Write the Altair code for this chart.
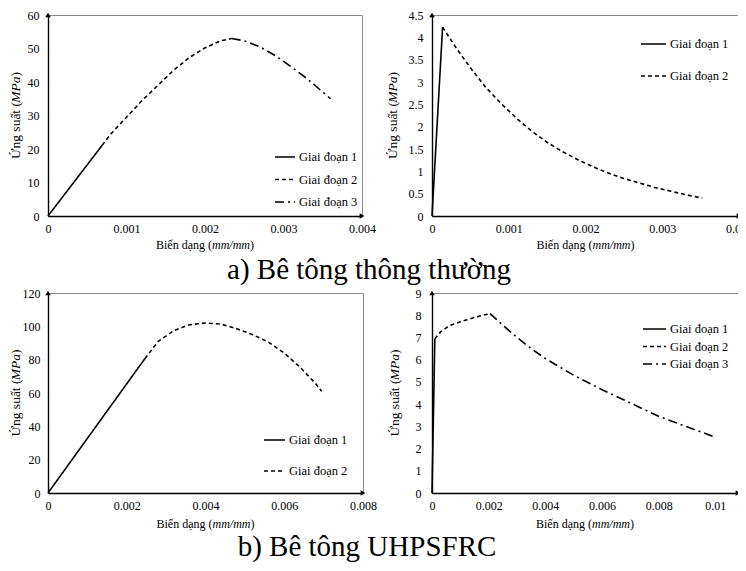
import altair as alt
import pandas as pd

FONT = "Liberation Serif"
STAGES = ["Giai đoạn 1", "Giai đoạn 2", "Giai đoạn 3"]
DASHES = [[1, 0], [4, 3], [9, 4, 2, 4]]
# axis titles: (normal part, italic part, normal part)
XTITLE = ["Biến dạng (", "mm/mm", ")"]
YTITLE = ["Ứng suất (", "MPa", ")"]

# ---- a) normal concrete, compression
a1_s1_x = [0.0, 0.00069]
a1_s1_y = [0.0, 21.1]
a1_s2_x = [0.00069, 0.0008, 0.0010, 0.0012, 0.0014, 0.0016, 0.0018, 0.0020, 0.0022, 0.00234]
a1_s2_y = [21.1, 24.5, 29.5, 34.5, 39.0, 43.5, 47.3, 50.2, 52.3, 53.0]
a1_s3_x = [0.00234, 0.0025, 0.0027, 0.0029, 0.0031, 0.0033, 0.0035, 0.0036]
a1_s3_y = [53.0, 52.3, 50.5, 47.8, 44.5, 41.0, 37.0, 35.0]
a1_xticks = [0, 0.001, 0.002, 0.003, 0.004]
a1_yticks = [0, 10, 20, 30, 40, 50, 60]

# ---- a) normal concrete, tension
a2_s1_x = [0.0, 0.000138]
a2_s1_y = [0.0, 4.23]
a2_s2_x = [0.000138, 0.0003, 0.0005, 0.0007, 0.0009, 0.0011, 0.0013, 0.0015, 0.0017,
           0.0019, 0.0021, 0.0023, 0.0025, 0.0027, 0.0029, 0.0031, 0.0033, 0.00352]
a2_s2_y = [4.23, 3.80, 3.32, 2.88, 2.52, 2.19, 1.90, 1.65, 1.44,
           1.26, 1.10, 0.96, 0.84, 0.74, 0.64, 0.56, 0.48, 0.40]
a2_xticks = [0, 0.001, 0.002, 0.003, 0.004]
a2_yticks = [0, 0.5, 1, 1.5, 2, 2.5, 3, 3.5, 4, 4.5]

# ---- b) UHPSFRC, compression
b1_s1_x = [0.0, 0.00246]
b1_s1_y = [0.0, 80.6]
b1_s2_x = [0.00246, 0.0028, 0.0032, 0.0036, 0.0040, 0.0044, 0.0048, 0.0052, 0.0056,
           0.0060, 0.0064, 0.0068, 0.00695]
b1_s2_y = [80.6, 91.0, 97.5, 101.0, 102.0, 101.3, 98.5, 95.0, 90.5,
           84.0, 75.5, 65.5, 61.0]
b1_xticks = [0, 0.002, 0.004, 0.006, 0.008]
b1_yticks = [0, 20, 40, 60, 80, 100, 120]

# ---- b) UHPSFRC, tension
b2_s1_x = [0.0, 0.0001]
b2_s1_y = [0.0, 6.93]
b2_s2_x = [0.0001, 0.0003, 0.0006, 0.0009, 0.0012, 0.0015, 0.0018, 0.00205]
b2_s2_y = [6.93, 7.25, 7.52, 7.66, 7.78, 7.90, 8.00, 8.07]
b2_s3_x = [0.00205, 0.0025, 0.0030, 0.0035, 0.0040, 0.0050, 0.0060, 0.0070, 0.0080, 0.0090, 0.0100]
b2_s3_y = [8.07, 7.55, 7.00, 6.50, 6.05, 5.30, 4.65, 4.05, 3.45, 2.98, 2.51]
b2_xticks = [0, 0.002, 0.004, 0.006, 0.008, 0.01]
b2_yticks = [0, 1, 2, 3, 4, 5, 6, 7, 8, 9]

CAP_A = "a) Bê tông thông thường"
CAP_B = "b) Bê tông UHPSFRC"

XT_SIZE = 12
YT_SIZE = 13.5


def text_piece(t, x, y, italic=False, angle=0, align="left", size=12):
    kw = dict(font=FONT, fontSize=size, color="black", align=align, baseline="middle",
              fontStyle="italic" if italic else "normal")
    if angle:
        kw["angle"] = angle
    return alt.Chart(pd.DataFrame({"t": [t]})).mark_text(**kw).encode(
        text="t:N", x=alt.value(x), y=alt.value(y))


def panel(series, xmax, xticks, ymax, yticks, w, h, leg, ylp, ytx, xty):
    names = STAGES[:len(series)]
    rows = []
    for name, (xs, ys) in zip(names, series):
        for i, (x, y) in enumerate(zip(xs, ys)):
            rows.append({"strain": x, "stress": y, "stage": name, "i": i})
    df = pd.DataFrame(rows)
    xsc = alt.Scale(domain=[0, xmax], nice=False, zero=True)
    ysc = alt.Scale(domain=[0, ymax], nice=False, zero=True)
    xax = alt.Axis(values=xticks, format="~r", grid=False, ticks=False, tickSize=0,
                   domainColor="black", domainWidth=1.4, labelFont=FONT, labelFontSize=12,
                   labelColor="black", labelPadding=7, labelFlush=False, labelOverlap=False,
                   title=None)
    yax = alt.Axis(values=yticks, format="~r", grid=False, ticks=False, tickSize=0,
                   domainColor="black", domainWidth=1.4, labelFont=FONT, labelFontSize=12,
                   labelColor="black", labelPadding=ylp, labelFlush=False, labelOverlap=False,
                   title=None)
    lx, ly, rp, ss = leg
    lines = alt.Chart(df).mark_line(color="black", strokeWidth=1.6).encode(
        x=alt.X("strain:Q", scale=xsc, axis=xax),
        y=alt.Y("stress:Q", scale=ysc, axis=yax),
        strokeDash=alt.StrokeDash(
            "stage:N",
            scale=alt.Scale(domain=names, range=DASHES[:len(names)]),
            legend=alt.Legend(orient="none", legendX=lx, legendY=ly, title=None,
                              symbolType="stroke", symbolSize=ss, symbolStrokeWidth=1.6,
                              symbolStrokeColor="black", labelFont=FONT, labelFontSize=12.5,
                              labelColor="black", rowPadding=rp, clipHeight=12, padding=0,
                              labelOffset=3, direction="vertical"),
        ),
        order="i:Q",
    )
    xend = alt.Chart(pd.DataFrame({"strain": [xmax], "stress": [0]})).mark_point(
        shape="triangle-right", filled=True, color="black", size=30, opacity=1).encode(
        x=alt.X("strain:Q", scale=xsc, axis=xax),
        y=alt.Y("stress:Q", scale=ysc, axis=yax))
    yend = alt.Chart(pd.DataFrame({"strain": [0], "stress": [ymax]})).mark_point(
        shape="triangle-up", filled=True, color="black", size=30, opacity=1).encode(
        x=alt.X("strain:Q", scale=xsc, axis=xax),
        y=alt.Y("stress:Q", scale=ysc, axis=yax))

    # x axis title with italic unit (widths of Times-metric glyphs)
    cx = w / 2
    xa_w = 4.666 * XT_SIZE
    xb_w = 3.166 * XT_SIZE
    start = cx - (xa_w + xb_w + 0.333 * XT_SIZE) / 2
    j1 = start + xa_w
    xt = [
        text_piece(XTITLE[0], j1, h + xty, align="right", size=XT_SIZE),
        text_piece(XTITLE[1], j1, h + xty, italic=True, size=XT_SIZE),
        text_piece(XTITLE[2], j1 + xb_w, h + xty, size=XT_SIZE),
    ]
    # y axis title, rotated, reads bottom-to-top
    cy = h / 2
    ya_w = 4.164 * YT_SIZE
    yb_w = 1.944 * YT_SIZE
    ybot = cy + (ya_w + yb_w + 0.333 * YT_SIZE) / 2
    k1 = ybot - ya_w
    yt = [
        text_piece(YTITLE[0], ytx, ybot, angle=270, size=YT_SIZE),
        text_piece(YTITLE[1], ytx, k1, italic=True, angle=270, size=YT_SIZE),
        text_piece(YTITLE[2], ytx, k1 - yb_w, angle=270, size=YT_SIZE),
    ]
    return alt.layer(lines, xend, yend, *xt, *yt).properties(
        width=w, height=h, view=alt.ViewBackground(stroke="#8a8a8a", strokeWidth=1))


def caption(text, w, h, x, y):
    return alt.Chart(pd.DataFrame({"t": [text]})).mark_text(
        font=FONT, fontSize=29, color="black", align="center", baseline="alphabetic"
    ).encode(text="t:N", x=alt.value(x), y=alt.value(y)).properties(width=w, height=h)


p1 = panel([(a1_s1_x, a1_s1_y), (a1_s2_x, a1_s2_y), (a1_s3_x, a1_s3_y)],
           0.004, a1_xticks, 60, a1_yticks, 314, 201, (226, 136, 9.5, 400), 9, -32, 29)
p2 = panel([(a2_s1_x, a2_s1_y), (a2_s2_x, a2_s2_y)],
           0.004, a2_xticks, 4.5, a2_yticks, 307, 201, (208, 23, 19, 625), 9, -39, 29)
p3 = panel([(b1_s1_x, b1_s1_y), (b1_s2_x, b1_s2_y)],
           0.008, b1_xticks, 120, b1_yticks, 315, 200, (215, 141, 18, 441), 8, -32, 31)
p4 = panel([(b2_s1_x, b2_s1_y), (b2_s2_x, b2_s2_y), (b2_s3_x, b2_s3_y)],
           0.0108, b2_xticks, 9, b2_yticks, 306, 200, (210, 30, 4.5, 529), 11, -37, 31)

row1 = alt.hconcat(p1, p2, spacing=70, bounds="flush").resolve_scale(strokeDash="independent")
row2 = alt.hconcat(p3, p4, spacing=69, bounds="flush").resolve_scale(strokeDash="independent")
capA = caption(CAP_A, 690, 32, 321, 26)
capB = caption(CAP_B, 690, 30, 319, 24)

chart = alt.vconcat(row1, capA, row2, capB, spacing=0).resolve_scale(
    strokeDash="independent"
).properties(padding={"left": 0, "top": 0, "right": -15, "bottom": 0}).configure_view(
    stroke="transparent")

chart.save("out.html", embed_options={"renderer": "svg", "actions": False})
